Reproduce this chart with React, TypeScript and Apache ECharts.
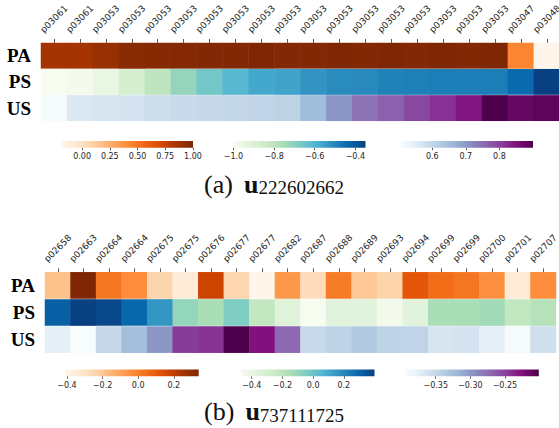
import React, { useEffect, useRef } from 'react';
import * as echarts from 'echarts';

// ---------- data ----------
const rowNames = ['PA', 'PS', 'US'];

const colsA = [
  'p03061', 'p03061', 'p03053', 'p03053', 'p03053', 'p03053', 'p03053', 'p03053', 'p03053', 'p03053',
  'p03053', 'p03053', 'p03053', 'p03053', 'p03053', 'p03053', 'p03053', 'p03053', 'p03047', 'p03048',
];
const paA = [0.86, 0.86, 0.91, 0.96, 0.97, 0.98, 0.99, 0.99, 1.0, 0.99, 0.99, 1.0, 0.99, 1.0, 0.99, 1.0, 0.99, 1.0, 0.44, -0.19];
const psA = [-1.0, -0.99, -0.95, -0.88, -0.805, -0.72, -0.66, -0.61, -0.57, -0.56, -0.53, -0.51, -0.505, -0.49, -0.485, -0.48, -0.48, -0.48, -0.436, -0.35];
const usA = [0.51, 0.562, 0.57, 0.574, 0.586, 0.59, 0.595, 0.6, 0.603, 0.605, 0.652, 0.703, 0.743, 0.766, 0.794, 0.817, 0.845, 0.9, 0.876, 0.884];

const colsB = [
  'p02658', 'p02663', 'p02664', 'p02664', 'p02675', 'p02675', 'p02676', 'p02677', 'p02677', 'p02682',
  'p02687', 'p02688', 'p02689', 'p02693', 'p02694', 'p02699', 'p02699', 'p02700', 'p02701', 'p02707',
];
const paB = [-0.185, 0.34, 0.025, -0.035, -0.245, -0.35, 0.175, -0.25, -0.41, -0.065, -0.275, 0.01, -0.2, -0.245, 0.115, 0.048, 0.025, -0.043, -0.35, -0.035];
const psB = [0.31, 0.4, 0.38, 0.29, 0.156, -0.096, -0.148, -0.044, -0.226, -0.357, -0.47, -0.366, -0.366, -0.45, -0.366, -0.148, -0.148, -0.13, -0.226, -0.183];
const usB = [-0.375, -0.394, -0.35, -0.325, -0.298, -0.247, -0.243, -0.201, -0.226, -0.272, -0.352, -0.346, -0.336, -0.346, -0.347, -0.363, -0.361, -0.375, -0.392, -0.357];

// colorbar ranges and ticks
const cbRangeA = [[-0.19, 1.0], [-1.0, -0.35], [0.507, 0.9]];
const cbTicksA = [[0, 0.25, 0.5, 0.75, 1.0], [-1.0, -0.8, -0.6, -0.4], [0.6, 0.7, 0.8]];
const cbDecA = [2, 1, 1];
const cbRangeB = [[-0.41, 0.34], [-0.47, 0.4], [-0.394, -0.201]];
const cbTicksB = [[-0.4, -0.2, 0.0, 0.2], [-0.4, -0.2, 0.0, 0.2], [-0.35, -0.3, -0.25]];
const cbDecB = [1, 1, 2];

const captionA = ['(a)', 'u', '222602662'];
const captionB = ['(b)', 'u', '737111725'];

// ---------- colormaps ----------
const ORANGES = ['#fff5eb', '#fee6ce', '#fdd0a2', '#fdae6b', '#fd8d3c', '#f16913', '#d94801', '#a63603', '#7f2704'];
const GNBU = ['#f7fcf0', '#e0f3db', '#ccebc5', '#a8ddb5', '#7bccc4', '#4eb3d3', '#2b8cbe', '#0868ac', '#084081'];
const BUPU = ['#f7fcfd', '#e0ecf4', '#bfd3e6', '#9ebcda', '#8c96c6', '#8c6bb1', '#88419d', '#810f7c', '#4d004b'];
const CMAPS = [ORANGES, GNBU, BUPU];

const TXT = '#262626';

function fmt(v: number, d: number) {
  const r = Number(v.toFixed(d));
  const s = Math.abs(r).toFixed(d);
  return (r < 0 ? '\u2212' : '') + s;
}

type Layout = {
  left: number; colW: number; rowTops: number[]; rowH: number;
  cbTop: number; cbH: number; cbLefts: number[]; cbW: number;
  capX: number; capY: number;
};

const layoutA: Layout = {
  left: 41, colW: 25.94, rowTops: [43, 69.2, 95.4], rowH: 25.4,
  cbTop: 141, cbH: 6.7, cbLefts: [61, 233.5, 401], cbW: 132,
  capX: 274, capY: 197,
};
const layoutB: Layout = {
  left: 45, colW: 25.55, rowTops: [272.3, 299.4, 326.5], rowH: 26.2,
  cbTop: 369.5, cbH: 6.7, cbLefts: [65.2, 241, 405.3], cbW: 133.5,
  capX: 274, capY: 424.5,
};

function buildOption() {
  const grid: any[] = [];
  const xAxis: any[] = [];
  const yAxis: any[] = [];
  const series: any[] = [];
  const visualMap: any[] = [];
  const graphic: any[] = [];

  const addPanel = (
    cols: string[], rows: number[][], ranges: number[][], ticks: number[][], decs: number[],
    L: Layout, caption: string[]
  ) => {
    rows.forEach((vals, r) => {
      const g = grid.length;
      grid.push({ left: L.left, top: L.rowTops[r], width: L.colW * cols.length, height: L.rowH, outerBoundsMode: 'none', containLabel: false });
      xAxis.push({
        type: 'category', gridIndex: g, data: cols, position: 'top', show: r === 0,
        axisLine: { show: false },
        axisTick: { show: true, alignWithLabel: true, length: 4, lineStyle: { color: '#333', width: 0.8 } },
        axisLabel: {
          interval: 0, rotate: -45, align: 'center', verticalAlign: 'middle', margin: 24, hideOverlap: false,
          fontSize: 9, fontFamily: 'DejaVu Sans', color: TXT,
        },
        splitLine: { show: false }, splitArea: { show: false },
      });
      yAxis.push({
        type: 'category', gridIndex: g, data: [rowNames[r]],
        axisLine: { show: false }, axisTick: { show: false },
        axisLabel: { margin: 10, fontSize: 19, fontWeight: 'bold', fontFamily: 'Liberation Serif', color: '#000' },
        splitLine: { show: false }, splitArea: { show: false },
      });
      const s = series.length;
      series.push({
        type: 'heatmap', xAxisIndex: g, yAxisIndex: g,
        data: vals.map((v, i) => [i, 0, v]),
        emphasis: { disabled: true }, silent: true, progressive: 0,
      });
      visualMap.push({
        type: 'continuous', show: false, seriesIndex: s, dimension: 2,
        min: ranges[r][0], max: ranges[r][1], inRange: { color: CMAPS[r] },
      });
    });

    ranges.forEach((rg, k) => {
      const g = grid.length;
      grid.push({ left: L.cbLefts[k], top: L.cbTop, width: L.cbW, height: L.cbH, outerBoundsMode: 'none', containLabel: false });
      xAxis.push({
        type: 'value', gridIndex: g, min: rg[0], max: rg[1], position: 'bottom',
        axisLine: { show: false }, splitLine: { show: false },
        axisTick: { show: true, length: 2.5, customValues: ticks[k], lineStyle: { color: '#333', width: 0.8 } },
        axisLabel: {
          customValues: ticks[k], formatter: (v: number) => fmt(v, decs[k]),
          fontSize: 8, margin: 5, fontFamily: 'DejaVu Sans', color: TXT,
          showMinLabel: true, showMaxLabel: true,
        },
      });
      yAxis.push({ type: 'value', gridIndex: g, min: 0, max: 1, show: false });
      const stops = CMAPS[k].map((c, i) => ({ offset: i / (CMAPS[k].length - 1), color: c }));
      series.push({
        type: 'custom', xAxisIndex: g, yAxisIndex: g, clip: false, silent: true,
        data: [[rg[0], rg[1]]],
        renderItem: (params: any, api: any) => {
          const a = api.coord([api.value(0), 1]);
          const b = api.coord([api.value(1), 0]);
          return {
            type: 'rect',
            shape: { x: a[0], y: a[1], width: b[0] - a[0], height: b[1] - a[1] },
            style: { fill: new echarts.graphic.LinearGradient(0, 0, 1, 0, stops) },
          };
        },
      });
    });

    graphic.push({
      type: 'text', x: L.capX, y: L.capY, silent: true,
      style: {
        text: `{a|${caption[0]}}{u|${caption[1]}}{s|${caption[2]}}`,
        align: 'center', verticalAlign: 'bottom',
        rich: {
          a: { fontFamily: 'Liberation Serif', fontSize: 26, lineHeight: 26, verticalAlign: 'bottom', fill: '#111' },
          u: { fontFamily: 'Liberation Serif', fontSize: 26, fontWeight: 'bold', lineHeight: 26, verticalAlign: 'bottom', fill: '#111', padding: [0, 0, 0, 11] },
          s: { fontFamily: 'Liberation Serif', fontSize: 19, lineHeight: 19, verticalAlign: 'bottom', fill: '#111' },
        },
      },
    });
  };

  addPanel(colsA, [paA, psA, usA], cbRangeA, cbTicksA, cbDecA, layoutA, captionA);
  addPanel(colsB, [paB, psB, usB], cbRangeB, cbTicksB, cbDecB, layoutB, captionB);

  return {
    animation: false,
    backgroundColor: '#ffffff',
    grid, xAxis, yAxis, series, visualMap, graphic,
  };
}

export default function App() {
  const ref = useRef<HTMLDivElement>(null);
  useEffect(() => {
    if (!ref.current) return;
    const chart = echarts.init(ref.current, undefined, { renderer: 'svg' });
    chart.setOption(buildOption() as any);
    return () => chart.dispose();
  }, []);
  return (
    <div
      ref={ref}
      style={{ position: 'fixed', left: 0, top: 0, width: 559, height: 428, background: '#fff' }}
    />
  );
}
